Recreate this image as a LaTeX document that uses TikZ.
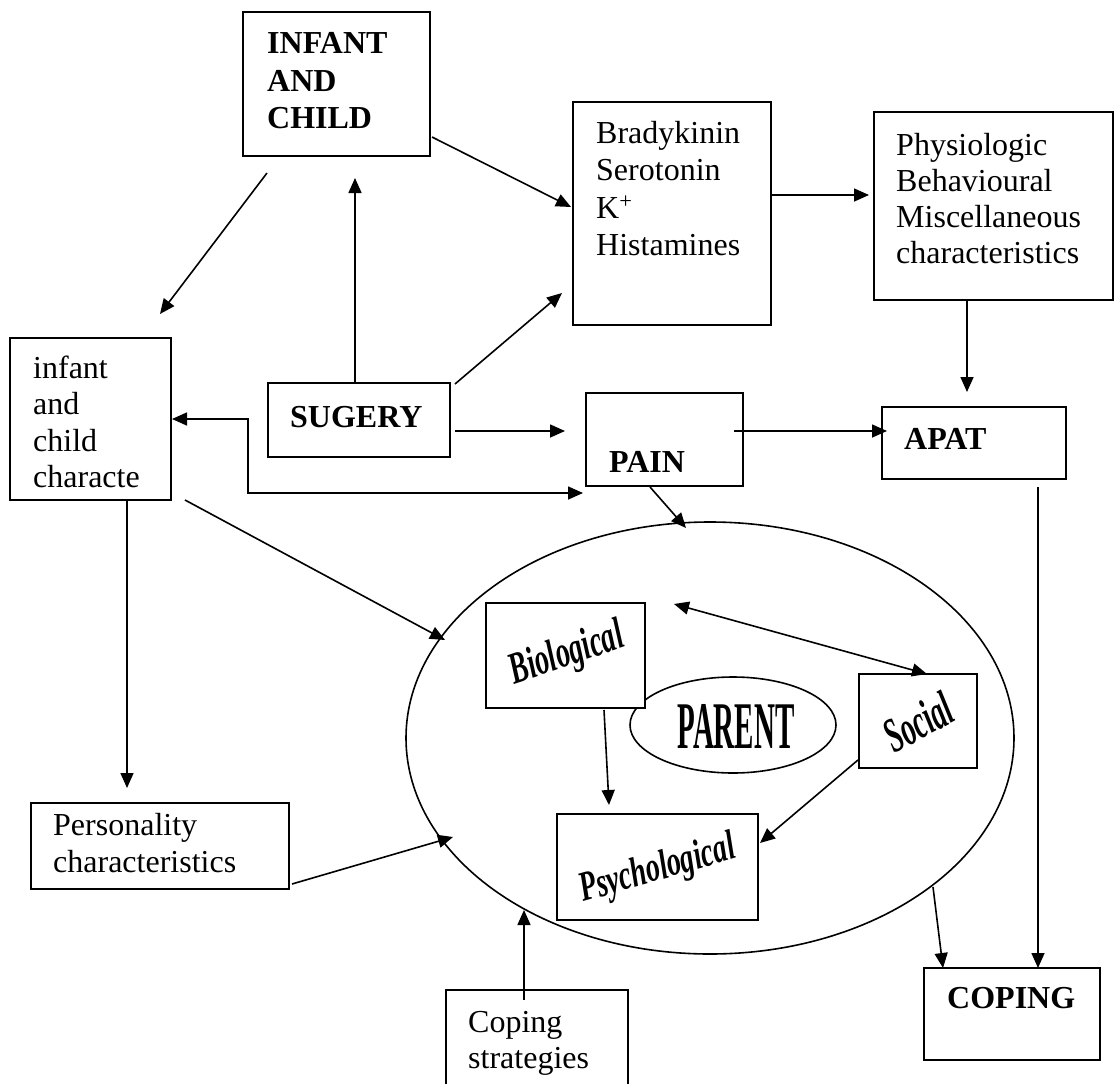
\documentclass[tikz,border=0pt]{standalone}
\usepackage{fontspec}
\setmainfont{Liberation Serif}
\usetikzlibrary{arrows.meta,shapes.geometric}
\begin{document}
\begin{tikzpicture}[x=1pt,y=-1pt,
  box/.style={draw,line width=1.6pt,rectangle,inner sep=0pt,fill=white},
  ovalshape/.style={draw,ellipse,line width=1.6pt,inner sep=0pt},
  conn/.style={line width=1.6pt,-{Triangle[length=15pt,width=13pt]}},
  dconn/.style={line width=1.6pt,{Triangle[length=15pt,width=13pt]}-{Triangle[length=15pt,width=13pt]}},
  txt/.style={anchor=base west,inner sep=0pt,font=\fontsize{32}{37.5}\selectfont},
  btxt/.style={anchor=base west,inner sep=0pt,font=\fontsize{32}{37.5}\selectfont\bfseries},
  wordart/.style={inner sep=0pt,font=\fontsize{28}{30}\selectfont\bfseries\itshape},
]
\useasboundingbox[fill=white] (0,0) rectangle (1114,1084);

% ellipses
\node[ovalshape,minimum width=608pt,minimum height=432pt] (outer) at (710,738) {};
\node[ovalshape,minimum width=206pt,minimum height=96pt] (parent) at (733,725) {};

% boxes
\node[box,minimum width=187pt,minimum height=144pt] (infchild) at (336.5,84) {};
\node[box,minimum width=198pt,minimum height=223pt] (brady) at (672,213.5) {};
\node[box,minimum width=239pt,minimum height=188pt] (physio) at (993.5,206) {};
\node[box,minimum width=161pt,minimum height=162pt] (infchar) at (90.5,419) {};
\node[box,minimum width=182pt,minimum height=74pt] (sugery) at (359,420) {};
\node[box,minimum width=157pt,minimum height=93pt] (pain) at (664.5,439.5) {};
\node[box,minimum width=184pt,minimum height=72pt] (apat) at (974,443) {};
\node[box,minimum width=159pt,minimum height=105pt] (bio) at (565.5,655.5) {};
\node[box,minimum width=118pt,minimum height=94pt] (social) at (918,721) {};
\node[box,minimum width=201pt,minimum height=106pt] (psych) at (657.5,867) {};
\node[box,minimum width=258pt,minimum height=86pt] (person) at (160,846) {};
\node[box,minimum width=182pt,minimum height=110pt] (copstrat) at (537,1045) {};
\node[box,minimum width=176pt,minimum height=92pt] (coping) at (1012,1014) {};

% texts
\node[btxt] (t1a) at (267,53) {INFANT};
\node[btxt] (t1b) at (267,91) {AND};
\node[btxt] (t1c) at (267,128) {CHILD};

\node[txt] (t2a) at (596,143) {Bradykinin};
\node[txt] (t2b) at (596,180.5) {Serotonin};
\node[txt] (t2c) at (596,218) {K\textsuperscript{+}};
\node[txt] (t2d) at (596,255.5) {Histamines};

\node[txt] (t3a) at (896,155) {Physiologic};
\node[txt] (t3b) at (896,191) {Behavioural};
\node[txt] (t3c) at (896,227) {Miscellaneous};
\node[txt] (t3d) at (896,263) {characteristics};

\node[txt] (t4a) at (33,378) {infant};
\node[txt] (t4b) at (33,414) {and};
\node[txt] (t4c) at (33,451) {child};
\node[txt] (t4d) at (33,487) {characte};

\node[btxt] (t5) at (290,427) {SUGERY};
\node[btxt] (t6) at (609,472) {PAIN};
\node[btxt] (t7) at (904,449) {APAT};
\node[btxt] (t8) at (947,1008) {COPING};

\node[txt] (t9a) at (53,835) {Personality};
\node[txt] (t9b) at (53,872) {characteristics};

\node[txt] (t10a) at (468,1032) {Coping};
\node[txt] (t10b) at (468,1068) {strategies};

\node[wordart,rotate=19,yscale=1.6] (biot) at (567,655) {Biological};
\node[wordart,rotate=28,yscale=1.75] (socialt) at (918,722) {Social};
\node[wordart,rotate=16,yscale=1.5] (psycht) at (658,870) {Psychological};
\node[inner sep=0pt,font=\fontsize{29}{30}\selectfont\bfseries,yscale=2.3] (parentt) at (736,726) {PARENT};

% connector end points
\coordinate (c1s) at (267,173);  \coordinate (c1e) at (160,314);
\coordinate (c2s) at (355,383);  \coordinate (c2e) at (355,178);
\coordinate (c3s) at (432,137);  \coordinate (c3e) at (571,207);
\coordinate (c4s) at (455,384);  \coordinate (c4e) at (562,293);
\coordinate (c5s) at (771,195);  \coordinate (c5e) at (869,195);
\coordinate (c6s) at (967,300);  \coordinate (c6e) at (967,392);
\coordinate (c7s) at (455,431);  \coordinate (c7e) at (565,431);
\coordinate (c8s) at (172,419);  \coordinate (c8e) at (583,493);
\coordinate (c9s) at (734,431);  \coordinate (c9e) at (887,431);
\coordinate (c10s) at (650,487); \coordinate (c10e) at (686,528);
\coordinate (c11s) at (185,500); \coordinate (c11e) at (445,640);
\coordinate (c12s) at (127,500); \coordinate (c12e) at (127,788);
\coordinate (c13s) at (292,884); \coordinate (c13e) at (453,837);
\coordinate (c14s) at (524,1000); \coordinate (c14e) at (524,910);
\coordinate (c15s) at (674,604); \coordinate (c15e) at (927,674);
\coordinate (c16s) at (604,710); \coordinate (c16e) at (609,805);
\coordinate (c17s) at (858,760); \coordinate (c17e) at (760,843);
\coordinate (c18s) at (933,887); \coordinate (c18e) at (943,968);
\coordinate (c19s) at (1038,487); \coordinate (c19e) at (1038,968);

% connectors
\draw[conn] (c1s) -- (c1e);
\draw[conn] (c2s) -- (c2e);
\draw[conn] (c3s) -- (c3e);
\draw[conn] (c4s) -- (c4e);
\draw[conn] (c5s) -- (c5e);
\draw[conn] (c6s) -- (c6e);
\draw[conn] (c7s) -- (c7e);
\draw[dconn] (c8s) -- (248,419) -- (248,493) -- (c8e);
\draw[conn] (c9s) -- (c9e);
\draw[conn] (c10s) -- (c10e);
\draw[conn] (c11s) -- (c11e);
\draw[conn] (c12s) -- (c12e);
\draw[conn] (c13s) -- (c13e);
\draw[conn] (c14s) -- (c14e);
\draw[dconn] (c15s) -- (c15e);
\draw[conn] (c16s) -- (c16e);
\draw[conn] (c17s) -- (c17e);
\draw[conn] (c18s) -- (c18e);
\draw[conn] (c19s) -- (c19e);
\end{tikzpicture}
\end{document}
